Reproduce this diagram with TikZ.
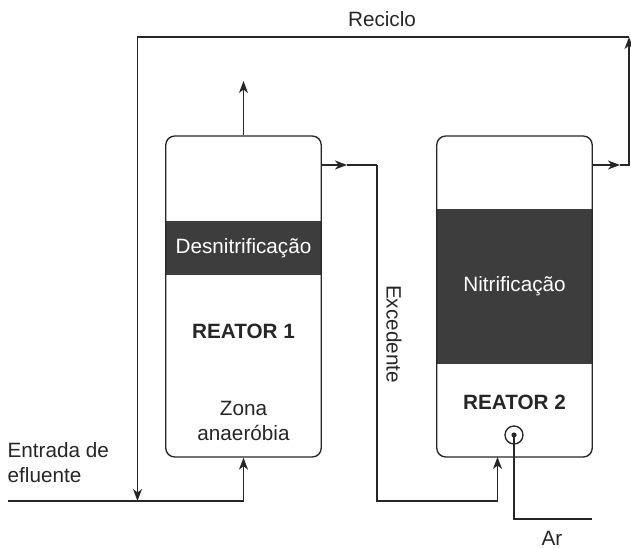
\documentclass[tikz,border=0pt]{standalone}
\usepackage{fontspec}
\setmainfont{Liberation Sans}
\usetikzlibrary{arrows.meta,calc}
\definecolor{ink}{HTML}{262626}
\definecolor{band}{HTML}{3D3D3D}
\begin{document}
\begin{tikzpicture}[x=1pt,y=-1pt,
  line width=1.35pt,
  every node/.style={font=\fontsize{20.7}{25}\selectfont, text=ink},
  reactor/.style={draw=ink, rounded corners=9pt, minimum width=155.5pt, minimum height=321pt, inner sep=0pt},
  zone/.style={fill=band, text=white, minimum width=155.5pt, inner sep=0pt},
  flow/.style={draw=ink, -{Stealth[length=12pt,width=9pt,inset=3.5pt]}},
  pipe/.style={draw=ink},
  lbl/.style={inner sep=0pt}]
\useasboundingbox (0,0) rectangle (631,548);

% dark process zones (drawn first, the vessel outline goes on top)
\node[zone, minimum height=54pt] (desn) at (243.5,248) {Desnitrificação};
\node[zone, minimum height=155pt] (nitr) at (514.5,286.5) {Nitrificação};

% the two vessels
\node[reactor] (r1) at (243.5,296.5) {};
\node[reactor] (r2) at (514.5,296.5) {};

\node[lbl, font=\fontsize{20.7}{25}\selectfont\bfseries] (t1) at (243.5,331) {REATOR 1};
\node[lbl, font=\fontsize{20.7}{25}\selectfont\bfseries] (t2) at (514.5,402) {REATOR 2};
\node[lbl, align=center, font=\fontsize{20.7}{25}\selectfont] (anae) at (243.5,421) {Zona\\anaeróbia};

% air diffuser
\node[draw=ink, circle, minimum size=18pt, inner sep=0pt] (air) at (514,435) {};
\fill[ink] (air.center) circle (2.6pt);

% reference points of the piping
\coordinate (inA)  at (8,501);
\coordinate (inB)  at (243.5,501);
\coordinate (topout) at (243.5,81);
\coordinate (r1out) at (321,165);
\coordinate (exA) at (347,165);
\coordinate (exB) at (377,165);
\coordinate (exC) at (377,501);
\coordinate (exD) at (497.5,501);
\coordinate (r2in) at (497.5,457);
\coordinate (r2out) at (592.25,165);
\coordinate (rcA) at (620,165);
\coordinate (rcB) at (629,165);
\coordinate (rcC) at (629,37);
\coordinate (rcD) at (137.5,37);
\coordinate (rcE) at (137.5,501);
\coordinate (arA) at (514,519);
\coordinate (arB) at (592,519);

% effluent feed
\draw[flow] (inA) -- (inB) -- (r1.south);
% gas release at the top of reactor 1
\draw[flow] (r1.north) -- (topout);
% excess flow from reactor 1 to reactor 2
\draw[flow] (r1out) -- (exA);
\draw[pipe] (exA) -- (exB);
\draw[flow] (exB) -- (exC) -- (exD) -- (r2in);
% recycle
\draw[flow] (r2out) -- (rcA);
\draw[flow] (rcA) -- (rcB) -- (rcC);
\draw[flow] (rcC) -- (rcD) -- (rcE);
% air supply
\draw[pipe] (air.center) -- (arA) -- (arB);

% labels
\node[lbl] (reciclo) at (382,19) {Reciclo};
\node[lbl, rotate=-90] (exced) at (394,334) {Excedente};
\node[lbl, anchor=west, align=left] (entrada) at (7,463) {Entrada de\\efluente};
\node[lbl] (ar) at (552,538) {Ar};
\end{tikzpicture}
\end{document}
